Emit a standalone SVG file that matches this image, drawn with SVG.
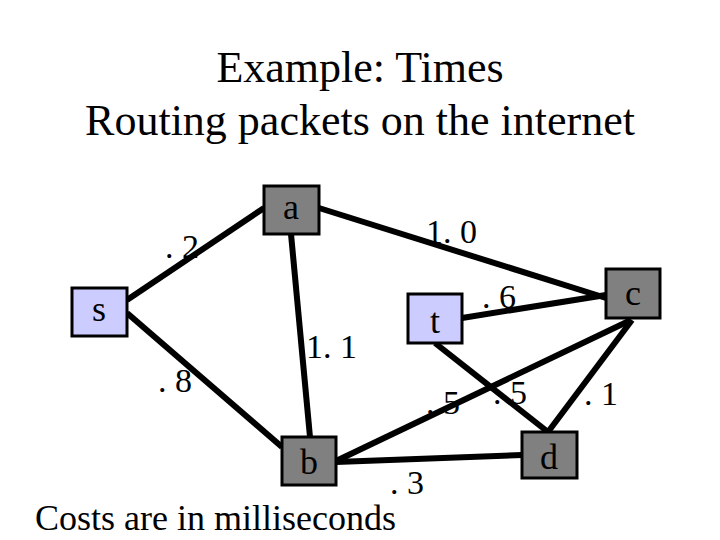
<svg xmlns="http://www.w3.org/2000/svg" width="720" height="540" viewBox="0 0 720 540">
<style>
text{font-family:"Liberation Serif","Times New Roman",serif;fill:#000}
.t{font-size:44px;text-anchor:middle}
.n{font-size:36px;text-anchor:middle}
.l{font-size:34px}
.g{fill:#808080;stroke:#000;stroke-width:3}
.b{fill:#ccccff;stroke:#000;stroke-width:3}
#edges line{stroke:#000;stroke-width:6}
</style>
<rect width="720" height="540" fill="#fff"/>
<text class="t" x="360" y="82">Example: Times</text>
<text class="t" x="360" y="135">Routing packets on the internet</text>
<g id="edges">
<line x1="127" y1="300" x2="264" y2="208"/>
<line x1="127" y1="313" x2="282" y2="447"/>
<line x1="291" y1="234" x2="310" y2="437"/>
<line x1="319" y1="208" x2="606" y2="298"/>
<line x1="462" y1="318" x2="606" y2="295"/>
<line x1="435" y1="343" x2="548" y2="432"/>
<line x1="336" y1="461" x2="631" y2="320"/>
<line x1="336" y1="462" x2="522" y2="455"/>
<line x1="632" y1="320" x2="548" y2="432"/>
</g>
<g id="s"><rect class="b" x="72" y="288" width="55" height="48"/><text class="n" x="99" y="321">s</text></g>
<g id="a"><rect class="g" x="264" y="186" width="55" height="48"/><text class="n" x="291" y="219">a</text></g>
<g id="t"><rect class="b" x="408" y="294" width="54" height="49"/><text class="n" x="435" y="333">t</text></g>
<g id="c"><rect class="g" x="606" y="269" width="54" height="49"/><text class="n" x="633" y="305">c</text></g>
<g id="b"><rect class="g" x="282" y="437" width="54" height="48"/><text class="n" x="309" y="474">b</text></g>
<g id="d"><rect class="g" x="522" y="432" width="55" height="46"/><text class="n" x="549" y="469">d</text></g>
<g id="labels">
<text class="l" x="165" y="258">. 2</text>
<text class="l" x="426" y="243">1. 0</text>
<text class="l" x="306" y="358">1. 1</text>
<text class="l" x="158" y="392">. 8</text>
<text class="l" x="482" y="308">. 6</text>
<text class="l" x="426" y="414">. 5</text>
<text class="l" x="493" y="404">. 5</text>
<text class="l" x="584" y="405">. 1</text>
<text class="l" x="390" y="494">. 3</text>
</g>
<text x="35" y="530" font-size="36">Costs are in milliseconds</text>
</svg>
